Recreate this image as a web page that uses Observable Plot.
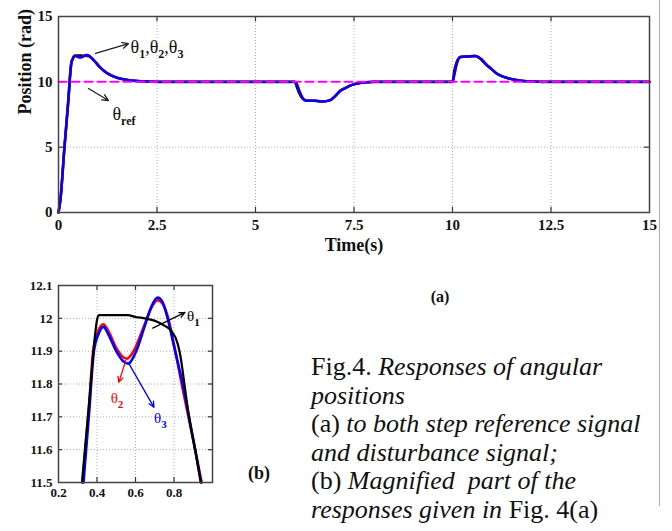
<!DOCTYPE html>
<html><head><meta charset="utf-8">
<script src="https://cdn.jsdelivr.net/npm/d3@7"></script>
<script src="https://cdn.jsdelivr.net/npm/@observablehq/plot@0.6"></script>
<style>
body{margin:0;background:#fff;width:672px;height:531px;overflow:hidden;position:relative;font-family:"Liberation Serif","Times New Roman",serif;}
#main{position:absolute;left:0;top:0;}
#inset{position:absolute;left:0;top:265px;}
.lbl{position:absolute;font-weight:bold;color:#111;transform:translate(-50%,-50%);white-space:nowrap;line-height:1;}
#caption{position:absolute;left:311px;top:353px;font-size:26px;line-height:28.6px;color:#111;white-space:nowrap;}
#rline{position:absolute;left:659px;top:0;width:1px;height:506px;background:#f19a9a;}
</style></head><body>
<div id="main"></div>
<div id="inset"></div>
<div class="lbl" style="left:440px;top:297px;font-size:16px">(a)</div>
<div class="lbl" style="left:259px;top:473px;font-size:18px">(b)</div>
<div id="caption">Fig.4. <i>Responses of angular</i><br><i>positions</i><br>(a) <i>to both step reference signal</i><br><i>and disturbance signal;</i><br>(b) <i>Magnified&nbsp; part of the</i><br><i>responses given in</i> Fig. 4(a)</div>
<div id="rline"></div>
<script>
// ---------- main chart data ----------
const tMain = [0, 0.05, 0.15, 0.25, 0.3, 0.33, 0.36, 0.384, 0.41, 0.433, 0.46, 0.5, 0.562, 0.6, 0.65, 0.715, 0.767, 0.8, 0.845, 0.94, 1.05, 1.15, 1.3, 1.5, 1.7, 1.9, 2.2, 2.5, 6.0, 6.04, 6.1, 6.2, 6.3, 6.5, 6.7, 6.9, 7.0, 7.16, 7.3, 7.41, 7.55, 7.66, 7.8, 8.0, 10.0, 10.05, 10.1, 10.2, 10.4, 10.58, 10.7, 10.88, 11.0, 11.13, 11.3, 11.47, 11.6, 11.8, 12.0, 12.3, 15];
const theta1Main = [0, 1.05, 5.0, 8.7, 10.8, 11.55, 11.75, 11.93, 12.01, 12.01, 12.01, 12.01, 12.008, 12.0, 11.995, 11.987, 11.97, 11.93, 11.82, 11.5, 11.12, 10.85, 10.55, 10.3, 10.17, 10.08, 10.03, 10.0, 10.0, 9.7, 9.2, 8.7, 8.55, 8.55, 8.5, 8.6, 8.85, 9.33, 9.55, 9.72, 9.85, 9.92, 9.97, 10.0, 10.0, 10.9, 11.45, 11.9, 11.95, 11.98, 11.8, 11.25, 10.95, 10.62, 10.38, 10.23, 10.15, 10.06, 10.02, 10.0, 10.0];
const theta2Main = [0, 1.0, 4.95, 8.55, 10.65, 11.52, 11.74, 11.92, 11.965, 11.982, 11.96, 11.91, 11.878, 11.91, 11.985, 12.055, 12.005, 11.92, 11.79, 11.51, 11.12, 10.85, 10.55, 10.3, 10.17, 10.08, 10.03, 10.0, 10.0, 9.9, 9.42, 8.77, 8.56, 8.55, 8.5, 8.6, 8.85, 9.33, 9.55, 9.72, 9.85, 9.92, 9.97, 10.0, 10.0, 10.58, 11.28, 11.9, 11.95, 11.98, 11.8, 11.25, 10.95, 10.62, 10.38, 10.23, 10.15, 10.06, 10.02, 10.0, 10.0];
const theta3Main = [0, 1.0, 4.9, 8.5, 10.6, 11.5, 11.72, 11.9, 11.955, 11.974, 11.95, 11.9, 11.862, 11.895, 11.98, 12.063, 12.0, 11.915, 11.8, 11.5, 11.12, 10.85, 10.55, 10.3, 10.17, 10.08, 10.03, 10.0, 10.0, 9.9, 9.4, 8.75, 8.55, 8.55, 8.5, 8.6, 8.85, 9.33, 9.55, 9.72, 9.85, 9.92, 9.97, 10.0, 10.0, 10.6, 11.3, 11.9, 11.95, 11.98, 11.8, 11.25, 10.95, 10.62, 10.38, 10.23, 10.15, 10.06, 10.02, 10.0, 10.0];
const tRef = [0, 15];
const thetaRef = [10, 10];
const mainXTicks = [0, 2.5, 5, 7.5, 10, 12.5, 15];
const mainYTicks = [0, 5, 10, 15];
const mainArrows = [
  {x1: 0.94, y1: 12.17, x2: 1.78, y2: 12.93},
  {x1: 0.76, y1: 9.49, x2: 1.27, y2: 8.57}
];
const mainLabels = [
  {x: 1.83, y: 12.62, label: "θ_1,θ_2,θ_3"},
  {x: 1.37, y: 7.5, label: "θ_ref"}
];

// ---------- inset (magnified) data ----------
const tTheta1Inset = [0.322, 0.36, 0.39, 0.4, 0.41, 0.56, 0.6, 0.628, 0.715, 0.75, 0.784, 0.819, 0.835, 0.854, 0.878, 0.91, 0.94];
const theta1Inset = [11.5, 11.75, 11.95, 11.995, 12.01, 12.01, 12.004, 12.002, 11.989, 11.978, 11.963, 11.923, 11.88, 11.8, 11.7, 11.6, 11.5];
const tTheta2Inset = [0.325, 0.357, 0.38, 0.405, 0.433, 0.46, 0.5, 0.53, 0.555, 0.59, 0.64, 0.68, 0.715, 0.74, 0.77, 0.8, 0.84, 0.875, 0.91, 0.944];
const theta2Inset = [11.5, 11.72, 11.9, 11.96, 11.982, 11.96, 11.91, 11.885, 11.877, 11.9, 11.97, 12.03, 12.055, 12.045, 12.0, 11.92, 11.8, 11.7, 11.6, 11.5];
const tTheta3Inset = [0.33, 0.36, 0.384, 0.41, 0.433, 0.46, 0.5, 0.535, 0.562, 0.6, 0.65, 0.69, 0.715, 0.74, 0.767, 0.8, 0.845, 0.878, 0.91, 0.94];
const theta3Inset = [11.5, 11.72, 11.9, 11.955, 11.974, 11.95, 11.9, 11.87, 11.862, 11.895, 11.98, 12.045, 12.063, 12.05, 12.0, 11.915, 11.8, 11.7, 11.6, 11.5];
const insetXTicks = [0.2, 0.4, 0.6, 0.8];
const insetYTicks = [11.5, 11.6, 11.7, 11.8, 11.9, 12, 12.1];
const insetArrows = [
  {x1: 0.69, y1: 11.97, x2: 0.857, y2: 12.018, c: "#000"},
  {x1: 0.55, y1: 11.872, x2: 0.513, y2: 11.805, c: "#ff0000"},
  {x1: 0.565, y1: 11.863, x2: 0.696, y2: 11.729, c: "#0000ff"}
];
const insetLabels = [
  {x: 0.868, y: 12.006, label: "θ_1", c: "#000"},
  {x: 0.471, y: 11.756, label: "θ_2", c: "#ff0000"},
  {x: 0.696, y: 11.695, label: "θ_3", c: "#0000ff"}
];

const rows = (ts, vs) => ts.map((t, i) => ({t, v: vs[i]}));
const FONT = '"Liberation Serif","Times New Roman",serif';

function subscriptify(svg, subSize, shift) {
  d3.select(svg).selectAll("text").each(function () {
    const s = this.textContent;
    if (!s.includes("_")) return;
    const parts = s.split(/(_[A-Za-z0-9]+)/).filter(p => p.length);
    const node = d3.select(this);
    node.text(null);
    let down = false;
    parts.forEach(p => {
      if (p.startsWith("_")) {
        node.append("tspan").attr("dy", shift).attr("font-size", subSize).attr("font-weight", "bold").text(p.slice(1));
        down = true;
      } else {
        node.append("tspan").attr("dy", down ? -shift : 0).text(p);
        down = false;
      }
    });
  });
}

// ---------- main plot ----------
const xInner = mainXTicks.slice(1, -1), yInner = mainYTicks.slice(1, -1);
const mainPlot = Plot.plot({
  width: 672, height: 256,
  marginLeft: 58, marginRight: 23, marginTop: 16, marginBottom: 44,
  style: {fontFamily: FONT, fontSize: "15px", fontWeight: "bold", color: "#111", background: "transparent"},
  x: {domain: [0, 15]},
  y: {domain: [0, 15]},
  marks: [
    Plot.gridX(xInner, {stroke: "#9a9a9a", strokeOpacity: 1, strokeDasharray: "1,2", strokeWidth: 0.8}),
    Plot.gridY(yInner, {stroke: "#9a9a9a", strokeOpacity: 1, strokeDasharray: "1,2", strokeWidth: 0.8}),
    Plot.ruleX(xInner, {x: d => d, y1: () => 0, y2: () => 0.4, stroke: "#333", strokeWidth: 1.2}),
    Plot.ruleX(xInner, {x: d => d, y1: () => 15, y2: () => 14.6, stroke: "#333", strokeWidth: 1.2}),
    Plot.ruleY(yInner, {y: d => d, x1: () => 0, x2: () => 0.13, stroke: "#333", strokeWidth: 1.2}),
    Plot.ruleY(yInner, {y: d => d, x1: () => 15, x2: () => 14.87, stroke: "#333", strokeWidth: 1.2}),
    Plot.line(rows(tMain, theta1Main), {x: "t", y: "v", stroke: "#000", strokeWidth: 2.6, curve: "monotone-x"}),
    Plot.line(rows(tMain, theta2Main), {x: "t", y: "v", stroke: "#ff0000", strokeWidth: 2.4, curve: "monotone-x"}),
    Plot.line(rows(tMain, theta3Main), {x: "t", y: "v", stroke: "#0000ff", strokeWidth: 2.4, curve: "monotone-x"}),
    Plot.line(rows(tRef, thetaRef), {x: "t", y: "v", stroke: "#ff00ff", strokeWidth: 2, strokeDasharray: "8,5"}),
    Plot.frame({stroke: "#444", strokeWidth: 1.5}),
    Plot.arrow(mainArrows, {x1: "x1", y1: "y1", x2: "x2", y2: "y2", stroke: "#222", strokeWidth: 1.3, headLength: 8, headAngle: 50}),
    Plot.text(mainLabels, {x: "x", y: "y", text: "label", textAnchor: "start", lineAnchor: "middle", fontSize: 18, fontWeight: "normal", fill: "#111"}),
    Plot.axisX(mainXTicks, {tickSize: 0, tickPadding: 7, label: null, tickFormat: d => String(d)}),
    Plot.axisY(mainYTicks, {tickSize: 0, tickPadding: 6, label: null, tickFormat: d => String(d)}),
    Plot.text([0], {frameAnchor: "bottom", dy: 33, text: () => "Time(s)", lineAnchor: "middle", fontSize: 18}),
    Plot.text([0], {frameAnchor: "left", dx: -33, rotate: -90, text: () => "Position (rad)", lineAnchor: "middle", fontSize: 18})
  ]
});
subscriptify(mainPlot, 12, 5);
document.getElementById("main").append(mainPlot);

// ---------- inset plot ----------
const ixInner = insetXTicks.slice(1), iyInner = insetYTicks.slice(1, -1);
const insetPlot = Plot.plot({
  width: 230, height: 245,
  marginLeft: 58, marginRight: 18, marginTop: 20, marginBottom: 28,
  style: {fontFamily: FONT, fontSize: "13px", fontWeight: "bold", color: "#111", background: "transparent"},
  x: {domain: [0.2, 1.0]},
  y: {domain: [11.5, 12.1]},
  marks: [
    Plot.gridX(ixInner, {stroke: "#9a9a9a", strokeOpacity: 1, strokeDasharray: "1,2", strokeWidth: 0.8}),
    Plot.gridY(iyInner, {stroke: "#9a9a9a", strokeOpacity: 1, strokeDasharray: "1,2", strokeWidth: 0.8}),
    Plot.ruleX(ixInner, {x: d => d, y1: () => 11.5, y2: () => 11.515, stroke: "#333", strokeWidth: 1.2}),
    Plot.ruleX(ixInner, {x: d => d, y1: () => 12.1, y2: () => 12.085, stroke: "#333", strokeWidth: 1.2}),
    Plot.ruleY(iyInner, {y: d => d, x1: () => 0.2, x2: () => 0.222, stroke: "#333", strokeWidth: 1.2}),
    Plot.ruleY(iyInner, {y: d => d, x1: () => 1.0, x2: () => 0.978, stroke: "#333", strokeWidth: 1.2}),
    Plot.line(rows(tTheta2Inset, theta2Inset), {x: "t", y: "v", stroke: "#ff0000", strokeWidth: 2.6, curve: "monotone-x"}),
    Plot.line(rows(tTheta3Inset, theta3Inset), {x: "t", y: "v", stroke: "#0000ff", strokeWidth: 2.6, curve: "monotone-x"}),
    Plot.line(rows(tTheta1Inset, theta1Inset), {x: "t", y: "v", stroke: "#000", strokeWidth: 2.2, curve: "monotone-x"}),
    Plot.frame({stroke: "#444", strokeWidth: 1.5}),
    Plot.arrow(insetArrows, {x1: "x1", y1: "y1", x2: "x2", y2: "y2", stroke: "c", strokeWidth: 1.3, headLength: 7, headAngle: 50}),
    Plot.text(insetLabels, {x: "x", y: "y", text: "label", fill: "c", textAnchor: "start", lineAnchor: "middle", fontSize: 15, fontWeight: "normal"}),
    Plot.axisX(insetXTicks, {tickSize: 0, tickPadding: 5, label: null, tickFormat: d => String(d)}),
    Plot.axisY(insetYTicks, {tickSize: 0, tickPadding: 6, label: null, tickFormat: d => String(d)})
  ]
});
subscriptify(insetPlot, 11, 5);
document.getElementById("inset").append(insetPlot);
</script>
</body></html>
